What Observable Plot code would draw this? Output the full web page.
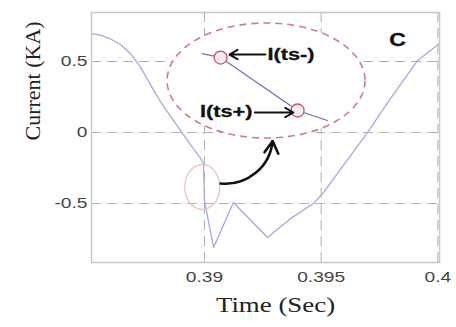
<!DOCTYPE html>
<html><head><meta charset="utf-8">
<script src="https://cdn.jsdelivr.net/npm/d3@7"></script>
<script src="https://cdn.jsdelivr.net/npm/@observablehq/plot@0.6"></script>
<style>body{margin:0;background:#fff}</style>
</head><body><div id="chart"></div>
<script>
// Main current trace (time in s, current in kA)
const timeSec   = [0.38516,0.38555,0.38597,0.38640,0.38683,0.38726,0.38769,0.38812,0.38854,0.38897,0.38940,0.38983,0.38996,0.39000,0.39039,0.39124,0.39270,0.39369,0.39467,0.39510,0.39698,0.39797,0.39913,0.40007];
const currentKA = [0.697,0.685,0.660,0.620,0.555,0.460,0.335,0.215,0.115,0.015,-0.085,-0.180,-0.218,-0.480,-0.810,-0.493,-0.739,-0.606,-0.500,-0.423,0.000,0.239,0.507,0.627];
// Magnified inset segment
const insetT = [0.38991,0.39069,0.39399,0.39527];
const insetI = [0.556,0.528,0.155,0.085];
// Circled samples I(ts-) and I(ts+)
const sampleT = [0.39069,0.39399];
const sampleI = [0.528,0.155];
// Annotation labels
const labelText = ["I(ts-)","I(ts+)","C"];
const labelT = [0.3927,0.39206,0.39827];
const labelI = [0.55,0.148,0.648];
// Label arrows (from -> to)
const arrowT1 = [0.39261,0.39216];
const arrowI1 = [0.549,0.141];
const arrowT2 = [0.39107,0.39381];
const arrowI2 = [0.549,0.141];
// Curved arrow from small ellipse to inset
const bigArrowT = [0.39069,0.39292];
const bigArrowI = [-0.359,-0.060];
// Ellipses: centre and half-sizes in data units
const ellT = [0.39266,0.38993];
const ellI = [0.3627,-0.387];
const ellHalfT = [0.004242,0.00075];
const ellHalfI = [0.405,0.158];
// Axes
const xTicks = [0.39,0.395,0.4];
const xTickLabels = ["0.39","0.395","0.4"];
const yTicks = [-0.5,0,0.5];
const yTickLabels = ["-0.5","0","0.5"];

const trace = timeSec.map((t,i)=>({t, v: currentKA[i]}));
const inset = insetT.map((t,i)=>({t, v: insetI[i]}));
const samples = sampleT.map((t,i)=>({t, v: sampleI[i]}));
const labels = labelText.map((s,i)=>({s, t: labelT[i], v: labelI[i]}));
const smallArrows = arrowT1.map((t,i)=>({x1:t, y1:arrowI1[i], x2:arrowT2[i], y2:arrowI2[i]}));
const bigArrow = [{x1:bigArrowT[0], y1:bigArrowI[0], x2:bigArrowT[1], y2:bigArrowI[1]}];

function ellipseMark(k, style) {
  return (index, scales) => {
    const {x, y} = scales;
    const cx = x(ellT[k]), cy = y(ellI[k]);
    const rx = Math.abs(x(ellT[k]+ellHalfT[k]) - cx);
    const ry = Math.abs(y(ellI[k]+ellHalfI[k]) - cy);
    const g = d3.create("svg:g");
    const e = g.append("ellipse").attr("cx",cx).attr("cy",cy).attr("rx",rx).attr("ry",ry);
    for (const [a,val] of Object.entries(style)) e.attr(a,val);
    return g.node();
  };
}

const xFmt = d => xTickLabels[xTicks.indexOf(d)];
const yFmt = d => yTickLabels[yTicks.indexOf(d)];

const chart = Plot.plot({
  width: 456, height: 327,
  marginLeft: 91, marginRight: 17, marginTop: 12, marginBottom: 65,
  style: {fontFamily: "Liberation Sans, Arial, sans-serif", background: "#fff"},
  x: {domain: [0.38516, 0.40007]},
  y: {domain: [-0.915, 0.845]},
  marks: [
    Plot.gridX(xTicks, {stroke: "#b0b0b0", strokeOpacity: 1, strokeDasharray: "10,6", strokeWidth: 1}),
    Plot.gridY(yTicks, {stroke: "#b0b0b0", strokeOpacity: 1, strokeDasharray: "10,6", strokeWidth: 1}),
    Plot.line(trace, {x: "t", y: "v", stroke: "#a8a8e2", strokeWidth: 1.3}),
    ellipseMark(0, {fill: "#fff", stroke: "#d27a88", "stroke-width": 1.6, "stroke-dasharray": "7,5"}),
    ellipseMark(1, {fill: "none", stroke: "#ebbcc0", "stroke-width": 1.2}),
    Plot.line(inset, {x: "t", y: "v", stroke: "#6a6ac6", strokeWidth: 1.2}),
    Plot.dot(samples, {x: "t", y: "v", r: 6.5, stroke: "#c4507a", strokeWidth: 1.3, fill: "#fcecf1"}),
    Plot.arrow(smallArrows, {x1: "x1", y1: "y1", x2: "x2", y2: "y2", stroke: "#111", strokeWidth: 2, headLength: 7}),
    Plot.arrow(bigArrow, {x1: "x1", y1: "y1", x2: "x2", y2: "y2", bend: -45, stroke: "#111", strokeWidth: 2.6, headLength: 8}),
    Plot.text(labels.slice(0,1), {x: "t", y: "v", text: "s", textAnchor: "start", fontWeight: "bold", fontSize: 17, fill: "#111", stroke: "#111", strokeWidth: 0.3}),
    Plot.text(labels.slice(1,2), {x: "t", y: "v", text: "s", textAnchor: "end", fontWeight: "bold", fontSize: 17, fill: "#111", stroke: "#111", strokeWidth: 0.3}),
    Plot.text(labels.slice(2,3), {x: "t", y: "v", text: "s", textAnchor: "middle", fontWeight: "bold", fontSize: 18, fill: "#111", stroke: "#111", strokeWidth: 0.3}),
    Plot.frame({stroke: "#c8c8c8", strokeWidth: 1.5}),
    Plot.axisX(xTicks, {tickSize: 0, tickPadding: 9, tickFormat: xFmt, fontSize: 15, fill: "#444", label: null}),
    Plot.axisY(yTicks, {tickSize: 0, tickPadding: 4, tickFormat: yFmt, fontSize: 15, fill: "#444", label: null}),
    Plot.text(["Time (Sec)"], {frameAnchor: "bottom", dx: 10, dy: 49, text: d => d, fontFamily: "Liberation Serif, Times New Roman, serif", fontSize: 21, fill: "#222"}),
    Plot.text(["Current (KA)"], {frameAnchor: "left", dx: -59, dy: 3, rotate: -90, text: d => d, fontFamily: "Liberation Serif, Times New Roman, serif", fontSize: 22, fill: "#222"})
  ]
});
document.getElementById("chart").append(chart);

// the reference is horizontally stretched: widen horizontal texts around their anchor
const svg = chart.tagName.toLowerCase() === "svg" ? chart : chart.querySelector("svg");
svg.querySelectorAll("text").forEach(t => {
  const tr = t.getAttribute("transform") || "";
  if (tr.includes("rotate")) return;
  const ax = parseFloat(t.getAttribute("x")) || 0;
  t.setAttribute("transform", `${tr} translate(${ax},0) scale(1.28,1) translate(${-ax},0)`);
});
</script></body></html>
